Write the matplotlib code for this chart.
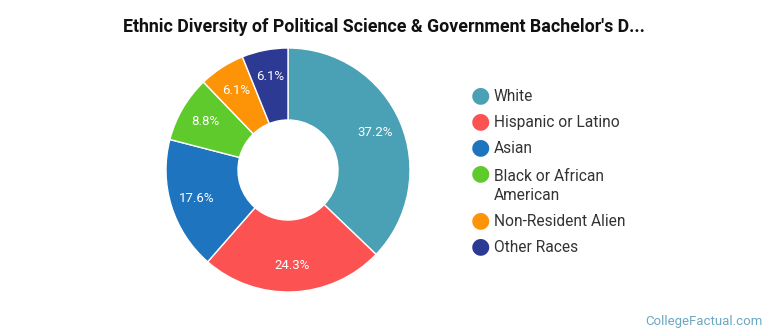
import matplotlib.pyplot as plt

plt.rcParams['font.family'] = ['Roboto', 'DejaVu Sans']

# data
races = ['White', 'Hispanic or Latino', 'Asian', 'Black or African\nAmerican',
         'Non-Resident Alien', 'Other Races']
shares = [37.2, 24.3, 17.6, 8.8, 6.1, 6.1]
colors = ['#4aa0b5', '#fc5252', '#1f74bf', '#5fca2b', '#fd9407', '#2c3a93']

W, H = 770, 335
fig = plt.figure(figsize=(W / 100, H / 100), dpi=100)

# donut
cx, cy, r = 288, 170, 122
ax = fig.add_axes([(cx - r) / W, (H - cy - r) / H, 2 * r / W, 2 * r / H])
wedges, texts, autotexts = ax.pie(
    shares, colors=colors, startangle=90, counterclock=False,
    autopct='%.1f%%', pctdistance=0.78, radius=1,
    wedgeprops=dict(width=0.59, edgecolor='white', linewidth=1),
    textprops=dict(color='white', fontsize=9.5))
ax.set_xlim(-1, 1)
ax.set_ylim(-1, 1)
ax.set_aspect('equal')

fig.text(384 / W, 1 - 27 / H,
         "Ethnic Diversity of Political Science & Government Bachelor's D...",
         ha='center', va='center', fontsize=12.75, fontweight='bold', color='#111111')

# legend drawn by hand
ys = [95, 121, 147, 173, 220, 246]
for name, col, y in zip(races, colors, ys):
    fig.text(480 / W, 1 - y / H, '\u25cf', color=col, fontsize=16,
             ha='center', va='center', family='DejaVu Sans')
    n_extra = name.count('\n')
    fig.text(494 / W, 1 - (y + 6 + 21.5 * n_extra) / H, name, color='#333333',
             fontsize=11.2, ha='left', va='baseline', linespacing=1.38)

fig.text(763 / W, 1 - 321 / H, 'CollegeFactual.com', color='#6aa8c2',
         fontsize=9.5, ha='right', va='center')

fig.savefig('out.png', dpi=100)
